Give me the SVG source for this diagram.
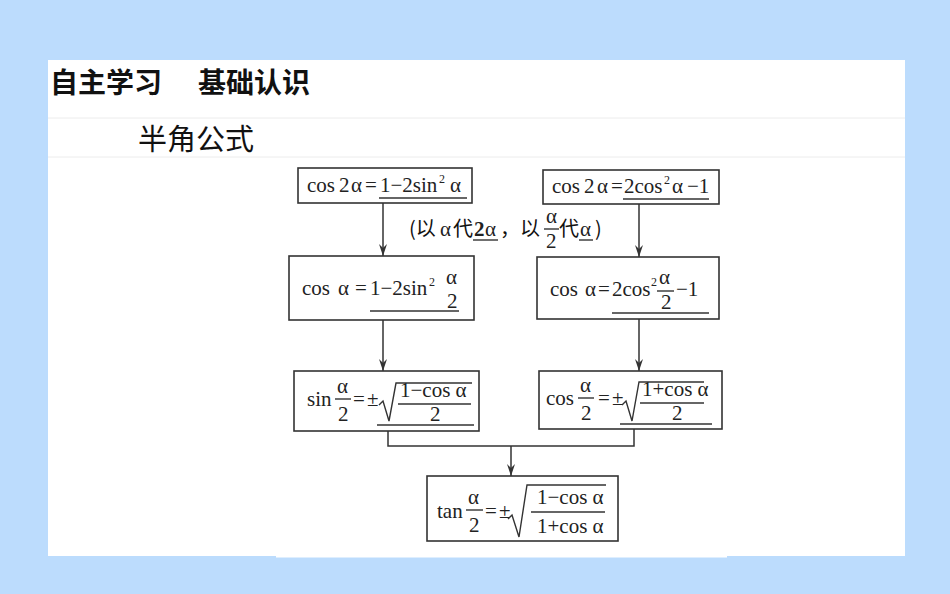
<svg xmlns="http://www.w3.org/2000/svg" width="950" height="594" viewBox="0 0 950 594">
<defs>
<style>
.f{font-family:"Liberation Serif","Times New Roman",serif;font-size:21px;fill:#222}
.sup{font-family:"Liberation Serif","Times New Roman",serif;font-size:12px;fill:#222}
.cj{font-family:"Noto Sans CJK SC","Noto Sans",sans-serif;fill:#111}
.box{fill:#fff;stroke:#333;stroke-width:1.6}
.ul{stroke:#333;stroke-width:1.4;fill:none}
.cn{stroke:#333;stroke-width:1.5;fill:none}
.sep{stroke:#ececec;stroke-width:1}
</style>
<marker id="ah" viewBox="0 0 12 8" refX="12" refY="4" markerWidth="12" markerHeight="8" markerUnits="userSpaceOnUse" orient="auto">
<path d="M0,0 L12,4 L0,8 L4,4 Z" fill="#333"/>
</marker>
</defs>
<rect x="0" y="0" width="950" height="594" fill="#bcdcfd"/>
<rect x="48" y="60" width="857" height="496" fill="#fff"/>
<rect x="276" y="556" width="451" height="1.5" fill="#fff"/>
<line class="sep" x1="48" y1="118" x2="905" y2="118"/>
<line class="sep" x1="48" y1="157" x2="905" y2="157"/>

<g id="header">
<text class="cj" x="50" y="93" font-size="28" font-weight="bold">自主学习</text>
<text class="cj" x="198" y="93" font-size="28" font-weight="bold">基础认识</text>
</g>
<g id="subtitle">
<text class="cj" x="138" y="150" font-size="29">半角公式</text>
</g>

<g id="connectors">
<line class="cn" x1="383" y1="203" x2="383" y2="256" marker-end="url(#ah)"/>
<line class="cn" x1="639" y1="204" x2="639" y2="257" marker-end="url(#ah)"/>
<line class="cn" x1="383" y1="320" x2="383" y2="371" marker-end="url(#ah)"/>
<line class="cn" x1="639" y1="319" x2="639" y2="371" marker-end="url(#ah)"/>
<polyline class="cn" points="388,431 388,446 634,446 634,429"/>
<line class="cn" x1="511" y1="446" x2="511" y2="476" marker-end="url(#ah)"/>
</g>

<g id="label">
<text class="cj" x="409" y="236" font-size="20">(以</text>
<text class="f" x="440" y="236">α</text>
<text class="cj" x="453" y="236" font-size="20">代</text>
<text class="f" x="474" y="236" font-weight="bold">2</text>
<text class="f" x="485" y="236">α</text>
<line class="ul" x1="473" y1="240" x2="498" y2="240"/>
<text class="cj" x="500" y="236" font-size="20">，以</text>
<text class="f" x="546" y="223" font-size="18">α</text>
<line class="ul" x1="544" y1="229" x2="559" y2="229"/>
<text class="f" x="546" y="248" font-size="19">2</text>
<text class="cj" x="559" y="236" font-size="20">代</text>
<text class="f" x="580" y="236">α</text>
<line class="ul" x1="579" y1="240" x2="593" y2="240"/>
<text class="cj" x="595" y="236" font-size="20">)</text>
</g>

<g id="n1">
<rect class="box" x="298" y="168" width="174" height="35"/>
<text class="f" x="307" y="192">cos</text>
<text class="f" x="339" y="192">2</text>
<text class="f" x="351" y="192">α</text>
<text class="f" x="365" y="192">=</text>
<text class="f" x="380" y="192">1−2sin</text>
<text class="sup" x="439" y="183">2</text>
<text class="f" x="450" y="192">α</text>
<line class="ul" x1="379" y1="198" x2="467" y2="198"/>
</g>

<g id="n2">
<rect class="box" x="543" y="170" width="176" height="34"/>
<text class="f" x="552" y="193">cos</text>
<text class="f" x="584" y="193">2</text>
<text class="f" x="597" y="193">α</text>
<text class="f" x="611" y="193">=</text>
<text class="f" x="624" y="193">2cos</text>
<text class="sup" x="664" y="184">2</text>
<text class="f" x="672" y="193">α</text>
<text class="f" x="687" y="193">−1</text>
<line class="ul" x1="623" y1="199" x2="709" y2="199"/>
</g>

<g id="n3">
<rect class="box" x="289" y="256" width="185" height="64"/>
<text class="f" x="302" y="295">cos</text>
<text class="f" x="338" y="295">α</text>
<text class="f" x="355" y="295">=</text>
<text class="f" x="370" y="295">1−2sin</text>
<text class="sup" x="429" y="286">2</text>
<text class="f" x="446" y="284" font-size="19">α</text>
<text class="f" x="447" y="308" font-size="20">2</text>
<line class="ul" x1="370" y1="311" x2="459" y2="311"/>
</g>

<g id="n4">
<rect class="box" x="537" y="257" width="182" height="62"/>
<text class="f" x="550" y="296">cos</text>
<text class="f" x="585" y="296">α</text>
<text class="f" x="598" y="296">=</text>
<text class="f" x="612" y="296">2cos</text>
<text class="sup" x="651" y="286">2</text>
<text class="f" x="659" y="284" font-size="19">α</text>
<line class="ul" x1="657" y1="291" x2="674" y2="291"/>
<text class="f" x="661" y="309" font-size="20">2</text>
<text class="f" x="676" y="296">−1</text>
<line class="ul" x1="612" y1="313" x2="709" y2="313"/>
</g>

<g id="n5">
<rect class="box" x="294" y="371" width="185" height="60"/>
<text class="f" x="307" y="406">sin</text>
<text class="f" x="337" y="393" font-size="19">α</text>
<line class="ul" x1="335" y1="399" x2="351" y2="399"/>
<text class="f" x="338" y="421" font-size="20">2</text>
<text class="f" x="353" y="406">=</text>
<text class="f" x="367" y="406">±</text>
<path class="ul" d="M379,405 L383,401 L389,421 L396,383 L472,383"/>
<text class="f" x="400" y="397">1−cos α</text>
<line class="ul" x1="398" y1="404" x2="471" y2="404"/>
<text class="f" x="430" y="421">2</text>
<line class="ul" x1="377" y1="425" x2="474" y2="425"/>
</g>

<g id="n6">
<rect class="box" x="539" y="371" width="183" height="58"/>
<text class="f" x="546" y="405">cos</text>
<text class="f" x="580" y="392" font-size="19">α</text>
<line class="ul" x1="578" y1="398" x2="594" y2="398"/>
<text class="f" x="581" y="420" font-size="20">2</text>
<text class="f" x="598" y="405">=</text>
<text class="f" x="612" y="405">±</text>
<path class="ul" d="M622,405 L626,401 L632,421 L639,382 L704,382"/>
<text class="f" x="642" y="396">1+cos α</text>
<line class="ul" x1="640" y1="403" x2="704" y2="403"/>
<text class="f" x="672" y="420">2</text>
<line class="ul" x1="620" y1="424" x2="712" y2="424"/>
</g>

<g id="n7">
<rect class="box" x="427" y="476" width="191" height="65"/>
<text class="f" x="437" y="518">tan</text>
<text class="f" x="468" y="504" font-size="19">α</text>
<line class="ul" x1="466" y1="510" x2="483" y2="510"/>
<text class="f" x="469" y="532" font-size="20">2</text>
<text class="f" x="485" y="518">=</text>
<text class="f" x="499" y="518">±</text>
<path class="ul" d="M508,519 L512,515 L519,537 L527,485 L606,485"/>
<text class="f" x="537" y="504">1−cos α</text>
<line class="ul" x1="531" y1="512" x2="605" y2="512"/>
<text class="f" x="537" y="533">1+cos α</text>
</g>
</svg>
